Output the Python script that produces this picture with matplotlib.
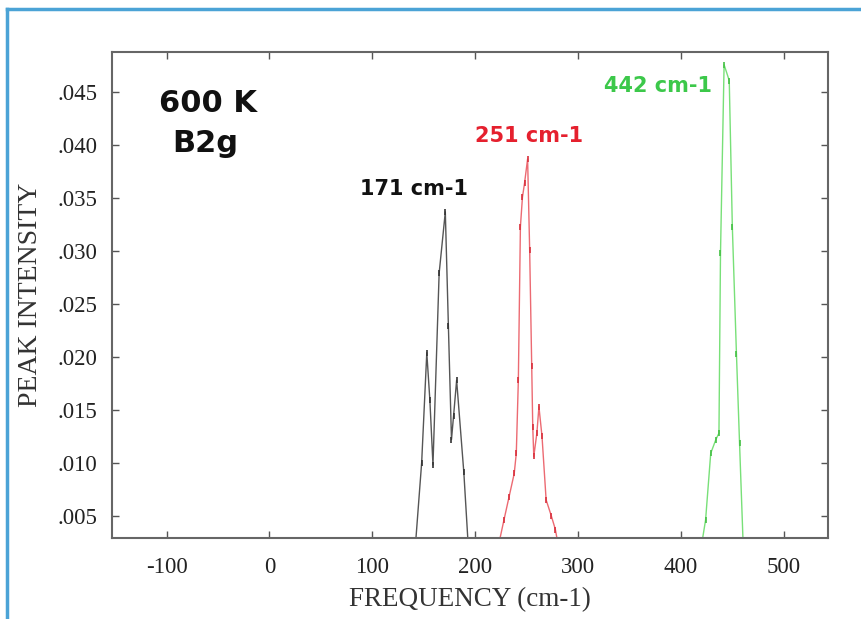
import matplotlib
matplotlib.use("Agg")
import matplotlib.pyplot as plt
from matplotlib.lines import Line2D

# Spectral peaks at 600 K, B2g mode
freq_171 = [141, 148, 153, 156, 159, 165, 171, 174, 177, 179, 182, 189, 194, 199]
inten_171 = [0.001, 0.0100, 0.0204, 0.0159, 0.0098, 0.0279, 0.0337, 0.0229, 0.0122, 0.0144,
             0.0178, 0.0091, 0.001, 0.001]

freq_251 = [220, 228, 233, 238, 240, 242, 244, 246, 248, 251, 253, 255, 256, 257, 260, 262,
            265, 269, 274, 278, 283, 290, 296]
inten_251 = [0.001, 0.0046, 0.0068, 0.0090, 0.0109, 0.0178, 0.0323, 0.0351, 0.0364, 0.0387,
             0.0301, 0.0191, 0.0134, 0.0106, 0.0128, 0.0153, 0.0125, 0.0065, 0.0050, 0.0037,
             0.001, 0.001, 0.001]

freq_442 = [418, 424, 429, 434, 437, 438.5, 442, 447, 450, 454, 457, 461, 470]
inten_442 = [0.001, 0.0046, 0.0109, 0.0122, 0.0128, 0.0298, 0.0476, 0.0461, 0.0323, 0.0203,
             0.0119, 0.001, 0.001]

x_ticks = [-100, 0, 100, 200, 300, 400, 500]
y_ticks = [0.005, 0.010, 0.015, 0.020, 0.025, 0.030, 0.035, 0.040, 0.045]
y_tick_labels = [".005", ".010", ".015", ".020", ".025", ".030", ".035", ".040", ".045"]

fig = plt.figure(figsize=(8.62, 6.19), dpi=100)
ax = fig.add_axes([112 / 862, 1 - 538 / 619, (828 - 112) / 862, (538 - 52) / 619])

series = [
    (freq_171, inten_171, "#555555", "#333333"),
    (freq_251, inten_251, "#ec6a72", "#d9303c"),
    (freq_442, inten_442, "#78e078", "#44c044"),
]
for xs, ys, lc, mc in series:
    ax.plot(xs, ys, color=lc, lw=1.0, marker="|", ms=4, mec=mc, mew=1.2, zorder=2)

ax.set_xlim(-153, 543)
ax.set_ylim(0.0029, 0.0488)
ax.set_xticks(x_ticks)
ax.set_xticklabels([str(v) for v in x_ticks])
ax.set_yticks(y_ticks)
ax.set_yticklabels(y_tick_labels)

serif = ["Liberation Serif", "DejaVu Serif"]
for lab in ax.get_xticklabels() + ax.get_yticklabels():
    lab.set_fontfamily(serif)
    lab.set_fontsize(16.5)
    lab.set_color("#222222")

ax.tick_params(direction="in", length=5, width=1, color="#555555", top=True, right=True)
ax.tick_params(axis="y", pad=10.5)
ax.tick_params(axis="x", pad=13.5)
for sp in ax.spines.values():
    sp.set_color("#666666")
    sp.set_linewidth(1.5)

ax.set_xlabel("FREQUENCY (cm-1)", fontfamily=serif, fontsize=19.5, color="#333333")
ax.set_ylabel("PEAK INTENSITY", fontfamily=serif, fontsize=20, color="#333333")
ax.xaxis.label.set_va("center")
ax.yaxis.label.set_va("center")
ax.xaxis.set_label_coords(0.5, -0.1276)
ax.yaxis.set_label_coords(-0.1145, 0.5)

bold = dict(fontfamily=["DejaVu Sans"], fontweight="bold", ha="center", va="baseline")
ax.text(-59.9, 0.04314, "600 K", fontsize=22, color="#111111", **bold)
ax.text(-62.3, 0.03937, "B2g", fontsize=22, color="#111111", **bold)
ax.text(140.5, 0.03528, "171 cm-1", fontsize=15, color="#111111", **bold)
ax.text(252.3, 0.04031, "251 cm-1", fontsize=15, color="#e5202e", **bold)
ax.text(377.6, 0.04503, "442 cm-1", fontsize=15, color="#3cc84a", **bold)

# Blue frame around the figure
fig.add_artist(Line2D([7 / 862, 7 / 862], [0, 1 - 9 / 619], color="#4ba3d6", lw=2.5,
                      transform=fig.transFigure))
fig.add_artist(Line2D([7 / 862, 1], [1 - 9 / 619, 1 - 9 / 619], color="#4ba3d6", lw=2.5,
                      transform=fig.transFigure))

fig.savefig("out.png", dpi=100)
